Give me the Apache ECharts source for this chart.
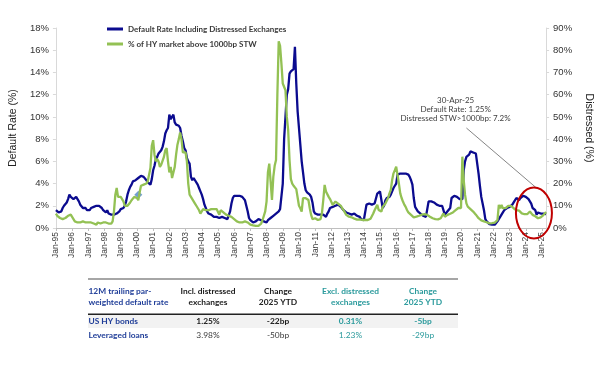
<!DOCTYPE html>
<html>
<head>
<meta charset="utf-8">
<script src="https://cdn.jsdelivr.net/npm/echarts@6/dist/echarts.min.js"></script>
<style>
html,body{margin:0;padding:0;background:#fff;}
#c{width:602px;height:381px;}
</style>
</head>
<body>
<div id="c"></div>
<script>
// ---------- data ----------
var monthNames = ['Jan','Feb','Mar','Apr','May','Jun','Jul','Aug','Sep','Oct','Nov','Dec'];
var firstYear = 1995, lastYear = 2025, lastMonth = 4;

// 12M trailing default rate incl. distressed exchanges (%), monthly Jan-95 .. Apr-25
var defaultRate = [
 1.6,1.5,1.4,1.4,1.5,1.8,2.0,2.1,2.3,2.6,3.0,2.8,   // 1995
 2.7,2.6,2.7,2.8,2.6,2.4,2.1,2.0,1.8,1.7,1.8,1.6,   // 1996
 1.7,1.6,1.8,1.7,1.9,1.9,2.0,2.1,2.0,1.9,1.8,1.6,   // 1997
 1.5,1.4,1.6,1.3,1.3,1.2,1.3,1.2,1.2,1.3,1.4,1.5,   // 1998
 1.7,1.6,1.8,2.0,2.4,3.0,3.4,3.7,3.9,4.2,4.2,4.3,   // 1999
 4.3,4.5,4.4,4.7,4.6,4.6,4.5,4.3,4.1,4.0,3.9,4.4,   // 2000
 5.2,5.6,6.2,6.4,6.7,6.8,7.0,7.3,7.8,8.5,8.8,9.0,   // 2001
 10.2,9.8,9.9,10.2,9.5,9.3,9.4,9.2,9.0,8.3,7.8,7.2, // 2002
 7.0,6.3,6.0,5.8,4.6,4.3,4.5,4.3,4.2,3.9,3.6,3.3,   // 2003
 3.0,2.6,2.1,1.8,1.5,1.3,1.2,1.2,1.1,1.0,1.0,1.0,   // 2004
 1.0,0.9,0.9,1.0,0.9,0.9,0.8,0.8,0.9,1.5,2.2,2.7,   // 2005
 2.9,2.8,2.9,3.0,2.9,2.8,2.8,2.7,2.5,2.0,1.5,0.9,   // 2006
 0.7,0.6,0.5,0.5,0.6,0.7,0.8,0.7,0.7,0.7,0.6,0.7,   // 2007
 0.5,0.7,0.8,0.9,1.0,1.1,1.2,1.3,1.4,1.5,1.7,1.8,   // 2008
 4.0,8.0,10.0,12.0,12.5,13.9,14.1,14.2,14.3,16.3,13.0,10.5, // 2009
 9.0,7.5,6.0,5.0,4.0,3.4,3.2,3.1,3.0,2.8,2.3,1.5,   // 2010
 1.3,1.2,1.2,1.2,1.2,1.1,1.2,1.1,1.0,1.3,1.5,1.8,   // 2011
 1.9,1.9,2.0,2.0,2.1,2.1,2.2,1.9,1.8,1.6,1.5,1.4,   // 2012
 1.3,1.3,1.2,1.2,1.2,1.3,1.2,1.1,1.0,1.0,0.8,0.7,   // 2013
 0.7,0.65,2.1,2.2,2.2,2.1,2.1,2.1,2.2,2.2,3.1,3.2,  // 2014
 3.3,3.3,1.8,2.0,2.5,2.7,2.8,2.8,3.0,3.3,3.6,3.8,   // 2015
 4.0,4.8,4.9,4.9,4.9,4.9,4.9,4.9,4.9,4.8,4.6,4.3,   // 2016
 3.9,2.7,1.9,1.7,1.5,1.4,1.3,1.2,1.1,1.0,1.0,1.0,   // 2017
 2.4,2.4,2.4,2.4,2.3,2.3,2.1,2.1,2.0,2.0,2.0,1.9,   // 2018
 1.2,1.3,1.5,1.6,1.8,2.7,2.8,2.9,2.9,2.8,2.7,2.6,   // 2019
 2.5,2.6,5.2,6.0,6.4,6.5,6.6,6.9,6.8,6.8,6.8,6.7,   // 2020
 6.7,4.9,3.8,2.8,2.2,1.6,0.8,0.6,0.45,0.35,0.3,0.3, // 2021
 0.3,0.3,0.4,0.6,0.8,1.0,1.2,1.4,1.6,1.7,1.8,1.8,   // 2022
 1.9,2.0,2.1,2.3,2.4,2.7,2.6,2.5,2.7,2.8,2.9,3.0,   // 2023
 2.8,2.7,2.6,2.4,2.2,1.8,1.7,1.6,1.2,1.4,1.5,1.3,   // 2024
 1.4,1.3,1.25,1.25                                  // 2025
];

// % of HY market above 1000bp STW, monthly Jan-95 .. Apr-25
var distressed = [
 6.5,5.5,5.0,4.5,4.3,4.0,4.0,4.5,5.0,5.5,6.0,6.0,   // 1995
 6.0,4.0,3.0,2.5,2.5,2.5,2.5,2.8,3.0,2.8,2.5,2.5,   // 1996
 2.5,2.3,2.5,2.2,2.0,1.8,1.5,2.5,2.3,2.0,2.2,2.5,   // 1997
 2.5,2.5,2.2,2.0,2.0,2.0,3.0,7.5,15,18,14,14.5,     // 1998
 14.0,14.0,12.0,10.0,10.0,10.0,10.5,11.5,12.5,13.0,14.0,13.5, // 1999
 13.5,12.5,16,19,19,19.5,20,20,21,21.5,27,37,       // 2000
 39.5,33,30,31,30,27.5,28.5,28,32,35,36,30,         // 2001
 25,27.5,22.5,22,27.5,33,37.5,40,43,40,34,34,       // 2002
 34,30,20,15,14,13,12.5,11,10,9,8,6.5,              // 2003
 7.5,8.5,8.5,8.0,8.0,8.0,8.5,8.5,8.5,8.5,8.5,8.5,   // 2004
 8.0,6.0,8.0,7.5,7.0,6.5,6.0,6.0,5.5,5.0,5.0,4.5,   // 2005
 4.0,3.5,3.0,3.0,2.5,2.5,2.5,3.0,3.0,2.5,2.5,2.0,   // 2006
 1.5,1.5,1.2,1.0,1.0,1.0,1.0,1.0,2.0,3.5,5.5,7.5,   // 2007
 12,25,29,21,12.6,23,28,30.6,60,84,82,74,           // 2008
 65,64.5,62,50,44,30.6,22,20,19,18.6,17.5,17,       // 2009
 10,8.9,7.4,13.4,13.4,13.4,13.4,12.6,8.9,5.9,4.0,3.5, // 2010
 4.4,4.0,3.6,3.6,4.0,6.6,12.6,19.4,16.4,15.6,14,13, // 2011
 12.6,10.4,11,11.9,11.9,11,10.5,10,8.9,8,7,5.9,     // 2012
 5.5,5.1,5.0,4.8,4.4,4.2,3.6,3.8,3.9,3.9,3.8,3.6,   // 2013
 3.6,3.6,3.6,3.6,3.8,4.2,5.1,6.5,8.0,8.9,10.4,8.1,  // 2014
 7.4,7.4,9.5,10.4,11,11.9,13.5,15.6,17.1,21.6,24.6,26, // 2015
 27.6,26.9,20,15.6,13.5,11.9,10.5,9.5,8.1,7,6.5,5.9, // 2016
 5.5,4.8,4.8,5.1,5.1,5.5,5.9,6.0,6.2,6.2,6.0,5.9,   // 2017
 5.5,5.1,4.8,4.4,4.4,4.0,3.9,3.9,4.2,4.4,5.5,6.6,   // 2018
 5.1,5.5,5.9,6.2,6.4,6.6,7.0,7.4,8.0,8.9,9.0,8.5,   // 2019
 9.0,32.1,21.6,14.9,11.1,9.6,8.9,8.5,7.9,7.4,6.5,6.0, // 2020
 5.1,4.4,3.6,3.4,3.2,3.0,2.9,2.6,2.4,2.1,2.1,2.2,   // 2021
 2.4,2.4,2.4,3.6,10.4,8.9,10.4,8.9,8.9,8.9,9.5,10,  // 2022
 10.4,10,9.5,8.9,8.5,8.0,7.4,7.8,8.4,6.6,6.5,6.2,   // 2023
 5.9,6.2,6.8,7.4,6.8,5.9,5.5,5.3,5.1,4.4,4.6,4.8,   // 2024
 5.1,5.8,6.6,7.2                                    // 2025
];

// stray marker in the source chart
var markerPoint = [['Feb-00', 3.0]];

var seriesNames = ['Default Rate Including Distressed Exchanges', '% of HY market above 1000bp STW'];
var leftTicks = {min: 0, max: 18, interval: 2};
var rightTicks = {min: 0, max: 90, interval: 10};

var annotationLines = ['30-Apr-25', 'Default Rate: 1.25%', 'Distressed STW>1000bp: 7.2%'];

// table
var tableHeader = [
  ['12M trailing par-', 'weighted default rate'],
  ['Incl. distressed', 'exchanges'],
  ['Change', '2025 YTD'],
  ['Excl. distressed', 'exchanges'],
  ['Change', '2025 YTD']
];
var tableRows = [
  ['US HY bonds', '1.25%', '-22bp', '0.31%', '-5bp'],
  ['Leveraged loans', '3.98%', '-50bp', '1.23%', '-29bp']
];

// ---------- categories ----------
var categories = [];
for (var y = firstYear; y <= lastYear; y++) {
  for (var m = 0; m < 12; m++) {
    if (y === lastYear && m >= lastMonth) break;
    categories.push(monthNames[m] + '-' + String(y).slice(2));
  }
}

// ---------- chart ----------
var NAVY = '#0b0b8f', GREEN = '#93c154';
var TBL_BLUE = '#1f3d98', TEAL = '#2a9a9c';
var chart = echarts.init(document.getElementById('c'), null, {renderer: 'canvas'});

var axisFont = 'Liberation Sans';
var option = {
  animation: false,
  backgroundColor: '#fff',
  grid: {left: 54, right: 55, top: 28, bottom: 153, containLabel: false},
  legend: {
    orient: 'vertical', left: 107, top: 24, padding: 0,
    itemWidth: 16, itemHeight: 3, itemGap: 5, icon: 'rect',
    data: seriesNames,
    textStyle: {fontFamily: 'Lato', fontSize: 8, fontWeight: 'bold', color: '#3a3a3a', lineHeight: 10}
  },
  xAxis: {
    type: 'category', data: categories, boundaryGap: false,
    axisLine: {lineStyle: {color: '#bfbfbf'}},
    axisTick: {show: true, interval: 11, length: 3, lineStyle: {color: '#bfbfbf'}},
    axisLabel: {interval: 11, rotate: 90, margin: 4, fontFamily: axisFont, fontSize: 8.5, color: '#404040'},
    splitLine: {show: false}
  },
  yAxis: [{
    type: 'value', min: leftTicks.min, max: leftTicks.max, interval: leftTicks.interval,
    name: 'Default Rate (%)', nameLocation: 'middle', nameRotate: 90, nameGap: 35,
    nameTextStyle: {fontFamily: axisFont, fontSize: 10.5, color: '#222'},
    axisLine: {show: true, lineStyle: {color: '#d9d9d9'}},
    axisTick: {show: true, length: 3, lineStyle: {color: '#d9d9d9'}},
    axisLabel: {formatter: '{value}%', fontFamily: axisFont, fontSize: 9.5, color: '#333', margin: 7},
    splitLine: {show: false}
  }, {
    type: 'value', min: rightTicks.min, max: rightTicks.max, interval: rightTicks.interval,
    name: 'Distressed (%)', nameLocation: 'middle', nameRotate: -90, nameGap: 29,
    nameTextStyle: {fontFamily: axisFont, fontSize: 10.5, color: '#222'},
    axisLine: {show: true, lineStyle: {color: '#d9d9d9'}},
    axisTick: {show: true, length: 3, lineStyle: {color: '#d9d9d9'}},
    axisLabel: {formatter: '{value}%', fontFamily: axisFont, fontSize: 9.5, color: '#333', margin: 7},
    splitLine: {show: false}
  }],
  series: [{
    name: seriesNames[0], type: 'line', data: defaultRate, yAxisIndex: 0,
    showSymbol: false, symbol: 'none', lineStyle: {color: NAVY, width: 2.3}, itemStyle: {color: NAVY}
  }, {
    name: seriesNames[1], type: 'line', data: distressed, yAxisIndex: 1,
    showSymbol: false, symbol: 'none', lineStyle: {color: GREEN, width: 2.3}, itemStyle: {color: GREEN}
  }, {
    name: 'marker', type: 'scatter', data: markerPoint, yAxisIndex: 0,
    symbol: 'diamond', symbolSize: 8, itemStyle: {color: '#4f86c6'}
  }]
};
chart.setOption(option);

// ---------- annotation & table (graphic layer) ----------
function px(cat, val) { return chart.convertToPixel({xAxisIndex: 0, yAxisIndex: 0}, [cat, val]); }
var ellC = px('Jul-24', 1.35);
var lineS = px('May-20', 9.0);
var txtC = px('Sep-19', 10.7);

var g = [];
g.push({type: 'text', z: 10, style: {text: annotationLines.join('\n'), x: txtC[0], y: txtC[1],
  align: 'center', verticalAlign: 'middle', lineHeight: 9, fill: '#404040',
  fontFamily: 'Lato', fontSize: 8}});
g.push({type: 'line', z: 10, shape: {x1: lineS[0], y1: lineS[1], x2: ellC[0] + 2, y2: ellC[1] - 25.5},
  style: {stroke: '#666', lineWidth: 0.8}});
g.push({type: 'ellipse', z: 10, shape: {cx: ellC[0], cy: ellC[1], rx: 18, ry: 25.5},
  style: {fill: 'none', stroke: '#c00000', lineWidth: 2}});

// table layout
var tblL = 88, tblR = 458;
var colX = [88.5, 208, 278, 350.5, 423];
var hdrColors = [TBL_BLUE, '#1a1a1a', '#1a1a1a', TEAL, TEAL];
var row1Colors = [TBL_BLUE, '#1a1a1a', '#1a1a1a', TEAL, TEAL];
var row2Colors = [TBL_BLUE, '#3a3a3a', '#3a3a3a', TEAL, TEAL];
var tf = 'Lato';
function tstyle(text, x, y, al, fill, bold) {
  return {text: text, x: x, y: y, align: al, verticalAlign: 'middle', fill: fill,
    fontFamily: tf, fontSize: 8.4, fontWeight: bold ? 'bold' : 'normal'};
}
g.push({type: 'line', shape: {x1: tblL, y1: 279, x2: tblR, y2: 279}, style: {stroke: '#a6a6a6', lineWidth: 2}});
g.push({type: 'rect', shape: {x: tblL, y: 315, width: tblR - tblL, height: 13}, style: {fill: '#f2f2f2'}});
g.push({type: 'line', shape: {x1: tblL, y1: 314.3, x2: tblR, y2: 314.3}, style: {stroke: '#222', lineWidth: 1.5}});
for (var c = 0; c < 5; c++) {
  var al = c === 0 ? 'left' : 'center';
  for (var l = 0; l < 2; l++) {
    g.push({type: 'text', style: tstyle(tableHeader[c][l], colX[c], 291.5 + l * 11, al, hdrColors[c], true)});
  }
  g.push({type: 'text', style: tstyle(tableRows[0][c], colX[c], 321.5, al, row1Colors[c], true)});
  g.push({type: 'text', style: tstyle(tableRows[1][c], colX[c], 335.5, al, row2Colors[c], c === 0)});
}
chart.setOption({graphic: g});
</script>
</body>
</html>
